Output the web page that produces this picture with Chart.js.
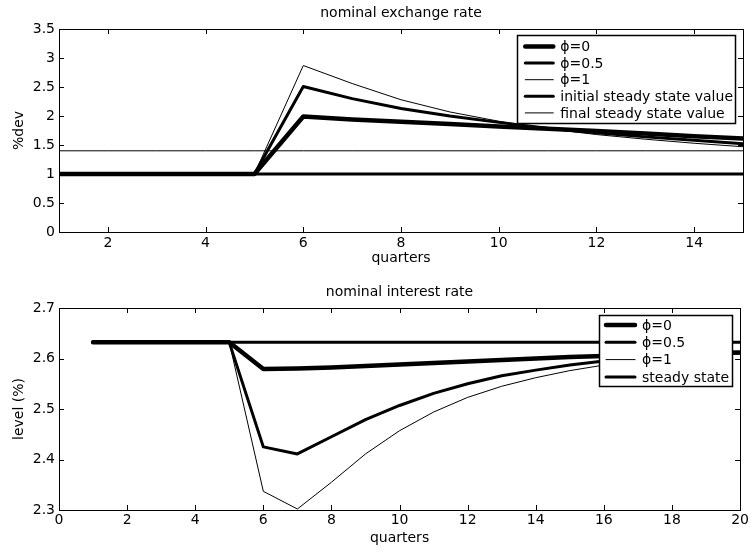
<!DOCTYPE html>
<html>
<head>
<meta charset="utf-8">
<script src="https://cdn.jsdelivr.net/npm/chart.js@4.4.0/dist/chart.umd.min.js"></script>
<style>
body{margin:0;background:#fff;}
.pane{position:absolute;left:0;width:752px;height:276px;}
</style>
</head>
<body>
<div class="pane" style="top:0"><canvas id="exch" width="752" height="276"></canvas></div>
<div class="pane" style="top:276px"><canvas id="intr" width="752" height="276"></canvas></div>
<script>
// nominal exchange rate, quarters 1..15
var exQuarters = [1,2,3,4,5,6,7,8,9,10,11,12,13,14,15];
var exXTicks = [2,4,6,8,10,12,14];
var exPhi0  = [1,1,1,1,1,1.99,1.94,1.90,1.86,1.82,1.78,1.74,1.70,1.65,1.61];
var exPhi05 = [1,1,1,1,1,2.51,2.30,2.13,2.00,1.89,1.79,1.71,1.64,1.58,1.52];
var exPhi1  = [1,1,1,1,1,2.87,2.56,2.28,2.07,1.91,1.78,1.68,1.60,1.53,1.47];
var exInitSS  = [1,1,1,1,1,1,1,1,1,1,1,1,1,1,1];
var exFinalSS = [1.4,1.4,1.4,1.4,1.4,1.4,1.4,1.4,1.4,1.4,1.4,1.4,1.4,1.4,1.4];
var exLabels = ['\u03d5=0','\u03d5=0.5','\u03d5=1','initial steady state value','final steady state value'];

// nominal interest rate, quarters 1..20
var irQuarters = [1,2,3,4,5,6,7,8,9,10,11,12,13,14,15,16,17,18,19,20];
var irXTicks = [0,2,4,6,8,10,12,14,16,18,20];
var irPhi0  = [2.632,2.632,2.632,2.632,2.632,2.579,2.580,2.582,2.585,2.588,2.591,2.594,2.597,2.600,2.603,2.605,2.607,2.609,2.611,2.612];
var irPhi05 = [2.632,2.632,2.632,2.632,2.632,2.425,2.411,2.445,2.479,2.507,2.531,2.550,2.566,2.577,2.587,2.595,2.601,2.605,2.608,2.611];
var irPhi1  = [2.632,2.632,2.632,2.632,2.632,2.337,2.302,2.355,2.411,2.457,2.494,2.523,2.545,2.562,2.576,2.587,2.596,2.602,2.607,2.611];
var irSS    = [2.632,2.632,2.632,2.632,2.632,2.632,2.632,2.632,2.632,2.632,2.632,2.632,2.632,2.632,2.632,2.632,2.632,2.632,2.632,2.632];
var irLabels = ['\u03d5=0','\u03d5=0.5','\u03d5=1','steady state'];

var FONT = 'DejaVu Sans';
Chart.defaults.font.family = FONT;
Chart.defaults.font.size = 14;
Chart.defaults.color = '#000';

function pts(xs, ys){
	return xs.map(function(x, i){ return {x: x, y: ys[i]}; });
}
function line(label, xs, ys, w){
	return {label: label, data: pts(xs, ys), borderColor: '#000', borderWidth: w,
		pointRadius: 0, tension: 0, fill: false, borderJoinStyle: 'round', borderCapStyle: 'round'};
}

// matlab style box with inward ticks on all four sides
var boxPlugin = {
	id: 'boxTicks',
	afterDatasetsDraw: function(chart){
		var a = chart.chartArea, ctx = chart.ctx, len = 5;
		ctx.save();
		ctx.strokeStyle = '#000';
		ctx.lineWidth = 1;
		ctx.beginPath();
		chart.scales.x.ticks.forEach(function(t){
			var px = Math.round(chart.scales.x.getPixelForValue(t.value)) + 0.5;
			ctx.moveTo(px, a.bottom); ctx.lineTo(px, a.bottom - len);
			ctx.moveTo(px, a.top); ctx.lineTo(px, a.top + len);
		});
		chart.scales.y.ticks.forEach(function(t){
			var py = Math.round(chart.scales.y.getPixelForValue(t.value)) + 0.5;
			ctx.moveTo(a.left, py); ctx.lineTo(a.left + len, py);
			ctx.moveTo(a.right, py); ctx.lineTo(a.right - len, py);
		});
		ctx.stroke();
		ctx.strokeRect(Math.round(a.left) + 0.5, Math.round(a.top) + 0.5,
			Math.round(a.right - a.left), Math.round(a.bottom - a.top));
		ctx.restore();
	}
};

// boxed legend inside the plot, top right
var boxLegend = {
	id: 'boxLegend',
	afterDraw: function(chart, args, o){
		var ctx = chart.ctx, a = chart.chartArea, ds = chart.data.datasets;
		ctx.save();
		ctx.font = '14px "' + FONT + '"';
		var tw = 0;
		ds.forEach(function(d){ tw = Math.max(tw, ctx.measureText(d.label).width); });
		var w = o.pad + o.sample + o.gap + tw + o.padRight;
		var right = a.right - o.right, left = right - w, top = a.top + o.top;
		var h = o.first + (ds.length - 1) * o.step + o.last;
		ctx.fillStyle = '#fff';
		ctx.fillRect(left, top, w, h);
		ctx.strokeStyle = '#000';
		ctx.lineWidth = 1.5;
		ctx.strokeRect(Math.round(left) + 0.5, Math.round(top) + 0.5, Math.round(w), Math.round(h));
		ds.forEach(function(d, i){
			var y = top + o.first + i * o.step;
			ctx.beginPath();
			ctx.lineWidth = d.borderWidth;
			ctx.lineCap = 'round';
			ctx.moveTo(left + o.pad, y);
			ctx.lineTo(left + o.pad + o.sample, y);
			ctx.stroke();
			ctx.fillStyle = '#000';
			ctx.textBaseline = 'middle';
			ctx.fillText(d.label, left + o.pad + o.sample + o.gap, y + 1);
		});
		ctx.restore();
	}
};

function axes(xmin, xmax, xticks, xh, lblPad, ttlPad, ymin, ymax, ystep, ytitle){
	return {
		x: {type: 'linear', min: xmin, max: xmax,
			afterBuildTicks: function(s){ s.ticks = xticks.map(function(v){ return {value: v}; }); },
			ticks: {padding: lblPad, maxRotation: 0, autoSkip: false, font: {size: 14, lineHeight: 1}},
			grid: {display: false, drawTicks: false, tickLength: 0}, border: {display: false},
			title: {display: true, text: 'quarters', padding: {top: 0, bottom: ttlPad}, font: {size: 14, lineHeight: 1}},
			afterFit: function(s){ s.height = xh; }},
		y: {min: ymin, max: ymax,
			ticks: {stepSize: ystep, padding: 4, font: {size: 14, lineHeight: 1},
				callback: function(v){ return String(Number(v.toFixed(3))); }},
			grid: {display: false, drawTicks: false, tickLength: 0}, border: {display: false},
			title: {display: true, text: ytitle, padding: {top: 12, bottom: 0}, font: {size: 14, lineHeight: 1}},
			afterFit: function(s){ s.width = 59; }}
	};
}

new Chart(document.getElementById('exch'), {
	type: 'line',
	data: {
		datasets: [
			line(exLabels[0], exQuarters, exPhi0, 4.5),
			line(exLabels[1], exQuarters, exPhi05, 3),
			line(exLabels[2], exQuarters, exPhi1, 1),
			line(exLabels[3], exQuarters, exInitSS, 3),
			line(exLabels[4], exQuarters, exFinalSS, 1)
		]
	},
	options: {
		responsive: false,
		animation: false,
		layout: {padding: {left: 0, right: 9, top: 0, bottom: 0}},
		scales: axes(1, 15, exXTicks, 44, 4, 11, 0, 3.5, 0.5, '%dev'),
		plugins: {
			legend: {display: false},
			tooltip: {enabled: false},
			title: {display: true, fullSize: false, text: 'nominal exchange rate', font: {size: 14, weight: 'normal'}, padding: {top: 4.6, bottom: 7.6}},
			boxLegend: {right: 8, top: 6, pad: 8, sample: 28, gap: 7, padRight: 2, first: 11.5, step: 16.6, last: 10}
		}
	},
	plugins: [boxPlugin, boxLegend]
});

new Chart(document.getElementById('intr'), {
	type: 'line',
	data: {
		datasets: [
			line(irLabels[0], irQuarters, irPhi0, 4.5),
			line(irLabels[1], irQuarters, irPhi05, 3),
			line(irLabels[2], irQuarters, irPhi1, 1),
			line(irLabels[3], irQuarters, irSS, 3)
		]
	},
	options: {
		responsive: false,
		animation: false,
		layout: {padding: {left: 0, right: 9, top: 0, bottom: 0}},
		scales: axes(0, 20, irXTicks, 42, 3, 7, 2.3, 2.7, 0.1, 'level (%)'),
		plugins: {
			legend: {display: false},
			tooltip: {enabled: false},
			title: {display: true, fullSize: false, text: 'nominal interest rate', font: {size: 14, weight: 'normal'}, padding: {top: 8, bottom: 7.2}},
			boxLegend: {right: 8, top: 7, pad: 7, sample: 29, gap: 7, padRight: 3, first: 10, step: 17.3, last: 9.5}
		}
	},
	plugins: [boxPlugin, boxLegend]
});
</script>
</body>
</html>
